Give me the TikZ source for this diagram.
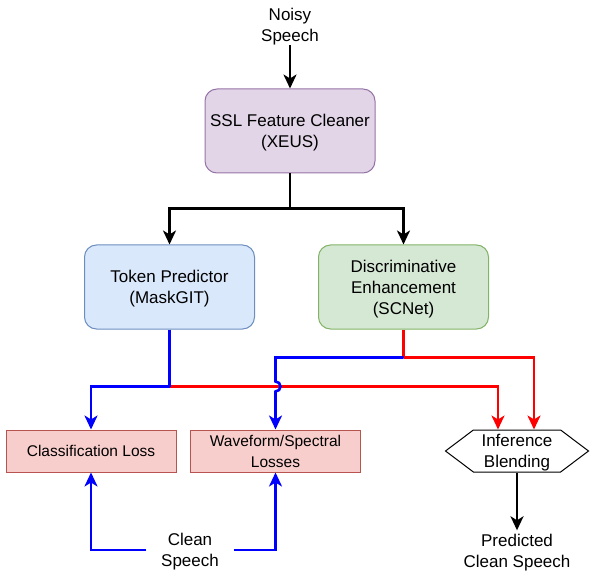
\documentclass[tikz,border=0pt]{standalone}
\usepackage{fontspec}
\setmainfont{Liberation Sans}
\usetikzlibrary{arrows.meta,shapes.symbols}

\definecolor{sslfill}{HTML}{E1D5E7}
\definecolor{sslline}{HTML}{9673A6}
\definecolor{tokfill}{HTML}{DAE8FC}
\definecolor{tokline}{HTML}{6C8EBF}
\definecolor{disfill}{HTML}{D5E8D4}
\definecolor{disline}{HTML}{82B366}
\definecolor{lossfill}{HTML}{F8CECC}
\definecolor{lossline}{HTML}{B85450}

\begin{document}
\begin{tikzpicture}[x=1pt,y=-1pt,
	txt/.style={align=center, font=\fontsize{17}{21}\selectfont, text depth=-2pt},
	blk/.style={txt, draw, rounded corners=12pt, line width=1pt, minimum width=170pt, minimum height=84pt},
	loss/.style={align=center, font=\fontsize{15.5}{21}\selectfont, draw=lossline, fill=lossfill, line width=1pt, minimum width=170pt, minimum height=42pt},
	wire/.style={line width=2.6pt},
	flow/.style={wire, -{Stealth[length=14pt, width=13pt, inset=4pt]}}]
	\useasboundingbox (0,0) rectangle (594,577);
	\node [txt] (noisy) at (290,25) {Noisy\\Speech};
	\node [blk, fill=sslfill, draw=sslline] (ssl) at (290,131) {SSL Feature Cleaner\\(XEUS)};
	\node [blk, fill=tokfill, draw=tokline] (tok) at (169.5,287) {Token Predictor\\(MaskGIT)};
	\node [blk, fill=disfill, draw=disline] (dis) at (403.5,287) {Discriminative\\Enhancement\\(SCNet)};
	\node [loss] (cls) at (91,451) {Classification Loss};
	\node [loss] (wav) at (275.5,451) {Waveform/Spectral\\Losses};
	\node [txt, draw, line width=1pt, fill=white, signal, signal to=west and east, signal pointer angle=74, minimum width=143pt, minimum height=42pt, inner sep=0pt] (blend) at (517,451) {Inference\\Blending};
	\node [txt, inner xsep=14.5pt] (clean) at (190,550) {Clean\\Speech};
	\node [txt] (pred) at (517,550.5) {Predicted\\Clean Speech};
	\coordinate (split) at ([yshift=-35pt]ssl.south);
	\coordinate (tokj) at ([yshift=-57pt]tok.south);
	\coordinate (disj) at ([yshift=-28pt]dis.south);
	\coordinate (hop) at (wav.north |- tokj);
	\draw [flow] (noisy.south) -- (ssl.north);
	\draw [wire] (ssl.south) -- (split);
	\draw [flow] (split) -| (tok.north);
	\draw [flow] (split) -| (dis.north);
	\draw [flow, red] (tokj) -| ([xshift=-19pt]blend.north);
	\draw [wire, red] (dis.south) -- (disj);
	\draw [flow, red] (disj) -| ([xshift=17pt]blend.north);
	\draw [wire, blue] (tok.south) -- (tokj);
	\draw [flow, blue] (tokj) -| (cls.north);
	\draw [flow, blue] (disj) -| ([yshift=5pt]hop) arc [start angle=90, end angle=-90, radius=5pt] -- (wav.north);
	\draw [flow, blue] (clean.west) -| (cls.south);
	\draw [flow, blue] (clean.east) -| (wav.south);
	\draw [flow] (blend.south) -- (pred.north);
\end{tikzpicture}
\end{document}
